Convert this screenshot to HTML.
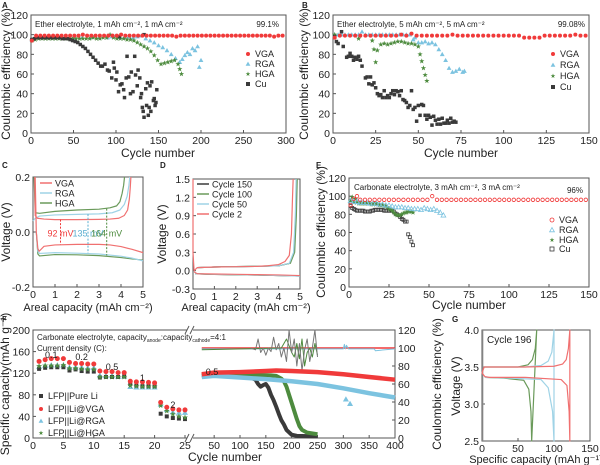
<!DOCTYPE html>
<html><head><meta charset="utf-8"><style>
html,body{margin:0;padding:0;background:#fff;}
svg{display:block;font-family:"Liberation Sans",Arial,sans-serif;}
</style></head><body>
<svg id="fig" width="600" height="465" viewBox="0 0 600 465" xmlns="http://www.w3.org/2000/svg"></svg>
<script>
// ---------- Panel A data ----------
const aVgaX=[1,6,11,16,21,26,31,36,41,46,51,56,61,66,71,76,81,86,91,96,101,106,111,116,121,126,131,136,141,146,151,156,161,166,171,176,181,186,191,196,201,206,211,216,221,226,231,236,241,246,251,256,261,266,271,276,281,286,291,296];
const aVgaY=[94,99,99,99,99,99,99,99,99,99,99,99,100,99,99,99,99,99,99,99,99,100,99,99,99,99,99,99,99,99,99,99,99,99,98,99,99,99,99,99,99,99,99,99,99,99,99,99,99,99,99,99,99,99,99,99,99,98,99,99];
const aRgaX=[1,10,20,30,40,50,60,70,80,90,95,100,105,110,115,120,125,130,135,140,145,150,155,160,165,170,175,178,181,184,187,190,193,196,198,200];
const aRgaY=[95,97,97,97,97,97,97,97,97,97,98,99,97,97,98,97,98,99,96,94,92,89,87,84,80,76,72,75,79,82,80,86,84,88,67,74];
const aHgaX=[1,5,9,13,17,21,25,29,33,37,41,45,49,53,57,61,65,69,73,77,81,85,89,93,97,101,105,109,113,117,121,125,129,133,137,141,145,149,153,157,161,165,169,173,175,177];
const aHgaY=[94,95,96,96,96,96,96,96,96,96,96,96,96,96,96,96,96,96,97,96,96,97,97,100,97,96,96,96,95,95,94,92,90,88,86,83,79,74,70,71,72,73,74,70,65,60];
const aCuX=[1,4,7,10,13,16,19,22,25,28,31,34,37,40,43,46,49,52,55,58,61,64,67,70,73,76,79,82,84,87,90,92,95,97,98,100,101,103,105,107,109,110,112,113,115,117,118,120,122,123,125,126,128,129,130,131,132,133,135,136,137,138,139,140,141,142,144,145,146,147,148,104,133];
const aCuY=[95,96,97,97,97,97,97,97,97,97,97,97,96,96,96,95,94,93,92,90,88,86,83,80,77,74,71,68,68,70,64,63,56,72,66,54,62,42,49,50,44,36,56,78,57,40,62,42,78,59,48,64,56,36,40,26,22,16,45,28,51,18,26,48,22,52,33,35,28,31,44,98,100];
// ---------- Panel B data ----------
const bVgaX=[1,4,7,10,13,16,19,22,25,28,31,34,37,40,43,46,49,52,55,58,61,64,67,70,73,76,79,82,85,88,91,94,97,100,103,106,109,112,115,118,121,124,127,130,133,136,139,142,145,148];
const bVgaY=[97,99,99,99,99,99,99,99,99,99,99,99,99,100,99,101,99,99,99,99,99,99,99,100,99,99,99,99,99,99,99,99,99,99,99,99,99,97,97,97,97,99,99,99,99,99,99,100,99,99];
const bRgaX=[1,3,5,7,9,11,13,15,17,19,21,23,25,27,29,31,33,35,37,39,41,43,45,47,48,50,52,54,56,58,60,62,64,66,68,70,72,74,76,77];
const bRgaY=[100,100,100,100,100,100,100,100,103,100,100,100,100,100,100,100,100,100,100,100,100,100,100,95,97,92,92,93,91,92,90,85,80,74,66,62,63,65,62,63];
const bHgaX=[1,15,23,24,25,26,28,30,32,34,36,38,40,42,44,46,48,50,51,52,53,54,55];
const bHgaY=[100,96,94,85,72,84,90,91,90,91,92,93,93,92,91,91,90,88,80,73,66,59,53];
const bCuX=[1,2,3,5,6,8,9,10,11,12,13,14,15,16,17,19,20,21,22,23,24,25,26,27,28,29,30,31,32,33,34,35,36,37,38,39,40,41,42,43,44,45,46,47,48,49,50,51,52,53,54,55,56,57,58,59,60,61,62,63,64,65,66,67,68,69,70,71,72];
const bCuY=[98,93,91,103,88,77,78,81,78,74,77,75,78,74,68,56,57,50,57,49,51,46,40,38,39,36,43,36,38,36,40,43,39,43,42,38,43,34,33,31,26,28,43,24,26,12,28,18,29,28,18,14,18,16,8,17,13,9,14,9,15,10,10,13,10,15,11,12,11];
// ---------- Panel C data ----------
const cVgaUpQ=[0.08,0.1,0.2,0.5,1,2,3,3.5,3.9,4.15,4.3,4.38,4.42,4.45];
const cVgaUpV=[0.2,0.06,0.05,0.047,0.045,0.045,0.046,0.047,0.05,0.06,0.08,0.12,0.16,0.2];
const cVgaDnQ=[0.1,0.15,0.22,0.28,0.5,1,2,3,3.5,4,4.5,5];
const cVgaDnV=[0.2,0.0,-0.06,-0.07,-0.052,-0.047,-0.045,-0.045,-0.047,-0.053,-0.063,-0.075];
const cRgaUpQ=[0,0.1,0.3,1,2,3,3.6,3.95,4.15,4.28,4.36,4.4];
const cRgaUpV=[0.04,0.05,0.058,0.062,0.064,0.066,0.07,0.08,0.1,0.13,0.17,0.2];
const cRgaDnQ=[0.15,0.22,0.3,1,2,3,4,4.5,5];
const cRgaDnV=[0.0,-0.07,-0.078,-0.075,-0.077,-0.08,-0.088,-0.095,-0.105];
const cHgaUpQ=[0.05,0.1,0.3,1,2,3,3.5,3.8,3.95,4.05,4.12,4.16];
const cHgaUpV=[0.2,0.07,0.068,0.075,0.08,0.083,0.088,0.095,0.11,0.14,0.17,0.2];
const cHgaDnQ=[0.15,0.22,0.3,1,2,3,4,4.5,5];
const cHgaDnV=[0.0,-0.08,-0.087,-0.082,-0.083,-0.086,-0.093,-0.098,-0.102];
// ---------- Panel D data ----------
const dC2UpQ=[0,0,0.05,0.2,1,2,3,3.5,4,4.3,4.5,4.6,4.65,4.68];
const dC2UpV=[1.5,0.3,0.0,0.05,0.06,0.065,0.07,0.08,0.1,0.15,0.25,0.6,1.2,1.5];
const dC2DnQ=[0.05,0.2,1,2,3,4,5];
const dC2DnV=[-0.02,-0.05,-0.055,-0.06,-0.065,-0.07,-0.08];
const dC50UpQ=[0.2,1,2,3,4,4.5,4.7,4.78,4.82];
const dC50UpV=[0.05,0.06,0.065,0.07,0.08,0.12,0.3,0.9,1.5];
const dC50DnQ=[0.1,1,3,5];
const dC50DnV=[-0.05,-0.06,-0.07,-0.09];
const dC100UpQ=[0.2,1,2,3,4,4.55,4.75,4.83,4.87];
const dC100UpV=[0.05,0.06,0.066,0.072,0.08,0.12,0.3,0.9,1.5];
const dC100DnQ=[0.1,1,3,5];
const dC100DnV=[-0.05,-0.062,-0.072,-0.088];
const dC150UpQ=[0.2,1,2,3,4,4.52,4.72,4.8,4.84];
const dC150UpV=[0.05,0.06,0.066,0.071,0.08,0.12,0.3,0.9,1.5];
const dC150DnQ=[0.1,1,3,5];
const dC150DnV=[-0.05,-0.062,-0.071,-0.088];
// ---------- Panel E data ----------
const eVgaX=[1,3,5,7,10,13,16,19,22,25,28,31,34,37,40,43,46,49,52,55,58,61,64,67,70,73,76,79,82,85,88,91,94,97,100,103,106,109,112,115,118,121,124,127,130,133,136,139,142,145,148];
const eVgaY=[90,97,100,96,96,96,96,96,96,96,96,96,96,96,96,96,96,96,100,96,96,96,96,96,96,96,96,96,96,96,96,96,96,96,96,96,96,96,96,96,96,96,96,96,96,96,96,96,96,96,96];
const eRgaX=[1,3,5,7,9,11,13,15,17,19,21,23,25,27,29,31,33,35,37,39,41,43,45,47,49,51,53,55,57,59];
const eRgaY=[95,94,94,93,93,93,92,92,92,91,91,90,90,89,88,88,88,87,87,86,86,86,85,87,86,85,86,84,82,79];
const eHgaX=[1,2,3,4,5,6,7,8,9,10,11,12,13,14,15,16,17,18,19,20,21,22,23,24,25,26,27,28,29,30,31,32,33,34,35,36,37,38,39,40];
const eHgaY=[95,99,93,97,93,92,92,92,92,92,92,92,92,91,91,92,91,91,90,90,90,89,89,88,86,85,84,82,80,79,79,79,80,81,82,82,83,83,83,82];
const eCuX=[1,2,3,4,5,6,7,8,9,10,11,12,13,14,15,16,17,18,19,20,21,22,23,24,25,26,27,28,29,30,31,32,33,34,35,36,37,38,39,40];
const eCuY=[89,87,86,85,84,84,84,84,84,83,83,83,83,84,84,85,85,85,85,85,85,84,84,84,84,84,84,83,81,80,79,77,75,74,72,72,58,55,50,46];
// ---------- Panel F data ----------
const fRateX=[1,2,3,4,5,6,7,8,9,10,11,12,13,14,15,16,17,18,19,20,21,22,23,24,25];
const fRatePure=[128,130,131,131,131,125,127,124,123,123,112,113,113,113,114,100,97,96,96,96,45,40,37,36,35];
const fRateVga=[142,145,147,147,147,140,138,138,137,137,124,123,123,121,121,105,104,104,103,102,66,57,54,52,52];
const fRateRga=[132,134,135,135,135,131,131,131,130,130,116,115,115,114,114,95,94,94,94,94,62,52,48,47,47];
const fRateHga=[133,134,134,134,135,129,129,128,127,127,113,113,113,113,113,97,96,95,95,95,60,50,44,40,38];
const fRateLabels=["0.1","0.2","0.5","1","2"];
const fVgaCapX=[26,50,100,150,170,200,250,300,350,400];
const fVgaCapY=[118,121,122,124,125,124,122,118,113,108];
const fRgaCapX=[26,50,100,150,200,250,300,350,400];
const fRgaCapY=[113,115,112,109,105,100,92,83,75];
const fHgaCapX=[26,50,100,130,160,170,180,185,190,195,200,205,210,215,220,230,250];
const fHgaCapY=[116,117,117,117,116,115,110,105,95,80,65,50,35,22,15,10,7];
const fPureCapX=[26,50,100,120,130,135,140,145,150,155,160,165,170,175,180,185,190,200,210,250];
const fPureCapY=[116,117,116,112,108,100,95,98,100,93,80,70,58,45,33,25,15,6,4,3];
const fVgaCeX=[26,100,200,300,400];
const fVgaCeY=[100,100,100,100,100];
const fRgaCeX=[26,300,302,304,306,310,360,362,400];
const fRgaCeY=[99,99,104,99,103,99,99,97,99];
const fRgaOutX=[305,313];
const fRgaOutY=[43,38];
const fPureCeX=[120,130,135,140,145,150,155,160,165,170,175,180,185,190,195,200,205,210,215,220,225,230,235,240,245,250];
const fPureCeY=[100,98,110,95,100,92,100,96,112,98,105,90,100,85,120,95,110,80,105,75,98,110,85,100,120,90];
const fHgaCeX=[26,180,190,200,205,210,215,220,225,230,235,240,245,250];
const fHgaCeY=[98,100,110,95,90,105,88,110,80,95,100,90,105,92];
// ---------- Panel G data ----------
const gVgaQ=[0,3,10,60,100,112,117,120,122,122,121,118,110,60,10,4,0];
const gVgaV=[3.42,3.5,3.5,3.5,3.51,3.54,3.6,3.75,4.0,2.5,2.9,3.25,3.33,3.36,3.36,3.37,3.42];
const gRgaQ=[3,60,82,92,97,100,100,98,92,82,40,4];
const gRgaV=[3.5,3.5,3.52,3.58,3.7,4.0,2.5,2.9,3.22,3.33,3.35,3.36];
const gHgaQ=[3,50,64,70,74,76,69,68,65,58,30,4];
const gHgaV=[3.5,3.5,3.53,3.6,3.75,4.0,2.5,2.9,3.2,3.32,3.35,3.36];
const gPureQ=[1,1];
const gPureV=[2.5,4.0];

// ---------- helpers ----------
const NS="http://www.w3.org/2000/svg";
const svg=document.getElementById('fig');
function mk(tag,parent){const e=document.createElementNS(NS,tag);parent.appendChild(e);return e;}
function set(e,o){for(const k in o)e.setAttribute(k,o[k]);return e;}
function lin(d0,d1,r0,r1){return v=>r0+(v-d0)*(r1-r0)/(d1-d0);}
function txt(parent,x,y,s,size,anchor,name,extra){
  const t=mk('text',parent);
  set(t,{x:x,y:y,'font-size':size,'text-anchor':anchor||'start',fill:'#222'});
  if(extra)set(t,extra);
  t.textContent=s;
  
  
  return t;
}
function group(name){const g=mk('g',svg);
  
  
  return g;}
function marker(g,type,x,y,color,s,open,name){
  let e;
  if(type==='sq'){e=mk('rect',g);set(e,{x:x-s/2,y:y-s/2,width:s,height:s});}
  else if(type==='ci'){e=mk('circle',g);set(e,{cx:x,cy:y,r:s/2});}
  else if(type==='tr'){e=mk('polygon',g);set(e,{points:`${x},${y-s*0.6} ${x-s*0.6},${y+s*0.45} ${x+s*0.6},${y+s*0.45}`});}
  else {e=mk('polygon',g);let p=[];for(let i=0;i<10;i++){const r=i%2?s*0.25:s*0.62;const a=-Math.PI/2+i*Math.PI/5;p.push((x+r*Math.cos(a)).toFixed(2)+','+(y+r*Math.sin(a)).toFixed(2));}set(e,{points:p.join(' ')});}
  if(open)set(e,{fill:'none',stroke:color,'stroke-width':0.8});else set(e,{fill:color});
  
  
  return e;
}
function scatter(g,xs,ys,sx,sy,type,color,s,open,name){
  for(let i=0;i<xs.length;i++){marker(g,type,sx(xs[i]),sy(ys[i]),color,s,open,name);}
}
function curve(g,xs,ys,sx,sy,color,w,name,op){
  const p=mk('polyline',g);
  set(p,{points:xs.map((x,i)=>sx(x).toFixed(2)+','+sy(ys[i]).toFixed(2)).join(' '),fill:'none',stroke:color,'stroke-width':w,'stroke-linejoin':'round','stroke-opacity':op||1});
  
  
  return p;
}
function frame(g,x0,y0,x1,y1){
  const r=mk('rect',g);set(r,{x:x0,y:y0,width:x1-x0,height:y1-y0,fill:'none',stroke:'#555','stroke-width':1});
  
  
}
function xTicks(g,ticks,labels,sx,y,fs){
  ticks.forEach((t,i)=>{const l=mk('line',g);set(l,{x1:sx(t),x2:sx(t),y1:y,y2:y-3,stroke:'#555'});
    
    
    txt(g,sx(t),y+11,labels[i],fs||10.5,'middle','x-tick-label');});
}
function yTicks(g,ticks,labels,sy,x,fs,right){
  ticks.forEach((t,i)=>{const l=mk('line',g);set(l,{x1:x,x2:right?x-3:x+3,y1:sy(t),y2:sy(t),stroke:'#555'});
    
    
    txt(g,right?x+3:x-3,sy(t)+4,labels[i],fs||10.5,right?'start':'end','y-tick-label');});
}
function rotTitle(g,x,y,s,name,fs){
  const t=txt(g,0,0,s,fs||12,'middle',name);
  t.setAttribute('transform',`translate(${x},${y}) rotate(-90)`);
  return t;
}
function legendRow(g,type,x,y,color,label,open){
  marker(g,type,x,y,color,4,open,'legend-marker');
  txt(g,x+7,y+3,label,9,'start','legend-label');
}
function legendLine(g,x,y,color,label){
  const l=mk('line',g);set(l,{x1:x,x2:x+12,y1:y,y2:y,stroke:color,'stroke-width':1.5});
  
  
  txt(g,x+15,y+3.5,label,9,'start','legend-label');
}
function panelLetter(s,x,y){txt(svg,x,y,s,8,'start','panel-letter-'+s.toLowerCase(),{'font-weight':'bold'});}
const RED='#f03a3a',BLUE='#7cc3e0',GREEN='#4d8b3e',BLACK='#3a3a3a';
const LRED='#f07070',LBLUE='#9fd3e6',LGREEN='#6a9a5a';

// ---------- Panel A ----------
(function(){
  const g=group('panel-a');panelLetter('A',2,8);
  const sx=lin(0,300,31,286),sy=lin(0,120,133,15);
  frame(g,31,15,286,133);
  xTicks(g,[0,50,100,150,200,250,300],['0','50','100','150','200','250','300'],sx,133);
  yTicks(g,[0,20,40,60,80,100,120],['0','20','40','60','80','100','120'],sy,31);
  txt(g,158,157,'Cycle number',12,'middle','x-axis-title');
  rotTitle(g,10,74,'Coulombic efficiency (%)','y-axis-title');
  scatter(g,aRgaX,aRgaY,sx,sy,'tr',BLUE,4,false,'rga-point');
  scatter(g,aHgaX,aHgaY,sx,sy,'st',GREEN,4.5,false,'hga-point');
  scatter(g,aCuX,aCuY,sx,sy,'sq',BLACK,3.5,false,'cu-point');
  scatter(g,aVgaX,aVgaY,sx,sy,'ci',RED,4,false,'vga-point');
  txt(g,35,27,'Ether electrolyte, 1 mAh cm⁻², 1 mA cm⁻²',8,'start','condition-note');
  txt(g,279,27,'99.1%',8,'end','efficiency-note');
  legendRow(g,'ci',248,54,RED,'VGA');legendRow(g,'tr',248,64,BLUE,'RGA');
  legendRow(g,'st',248,74,GREEN,'HGA');legendRow(g,'sq',248,84,BLACK,'Cu');
})();
// ---------- Panel B ----------
(function(){
  const g=group('panel-b');panelLetter('B',302,8);
  const sx=lin(0,150,333,589),sy=lin(0,120,133,15);
  frame(g,333,15,589,133);
  xTicks(g,[0,25,50,75,100,125,150],['0','25','50','75','100','125','150'],sx,133);
  yTicks(g,[0,20,40,60,80,100,120],['0','20','40','60','80','100','120'],sy,333);
  txt(g,461,157,'Cycle number',12,'middle','x-axis-title');
  rotTitle(g,308,74,'Coulombic efficiency (%)','y-axis-title');
  scatter(g,bRgaX,bRgaY,sx,sy,'tr',BLUE,4,false,'rga-point');
  scatter(g,bHgaX,bHgaY,sx,sy,'st',GREEN,4.5,false,'hga-point');
  scatter(g,bCuX,bCuY,sx,sy,'sq',BLACK,3.5,false,'cu-point');
  scatter(g,bVgaX,bVgaY,sx,sy,'ci',RED,4,false,'vga-point');
  txt(g,337,27,'Ether electrolyte, 5 mAh cm⁻², 5 mA cm⁻²',8,'start','condition-note');
  txt(g,585,27,'99.08%',8,'end','efficiency-note');
  legendRow(g,'ci',553,54,RED,'VGA');legendRow(g,'tr',553,65,BLUE,'RGA');
  legendRow(g,'st',553,76,GREEN,'HGA');legendRow(g,'sq',553,87,BLACK,'Cu');
})();
// ---------- Panel C ----------
(function(){
  const g=group('panel-c');panelLetter('C',2,168);
  const sx=lin(0,5,33,143),sy=lin(-0.2,0.2,287,177);
  frame(g,33,177,143,287);
  xTicks(g,[0,1,2,3,4,5],['0','1','2','3','4','5'],sx,287);
  yTicks(g,[-0.2,0,0.2],['-0.2','0.0','0.2'],sy,33);
  txt(g,88,311,'Areal capacity (mAh cm⁻²)',11,'middle','x-axis-title');
  rotTitle(g,10,232,'Voltage (V)','y-axis-title');
  curve(g,cHgaUpQ,cHgaUpV,sx,sy,LGREEN,1.2,'hga-curve');curve(g,cHgaDnQ,cHgaDnV,sx,sy,LGREEN,1.2,'hga-curve');
  curve(g,cRgaUpQ,cRgaUpV,sx,sy,LBLUE,1.2,'rga-curve');curve(g,cRgaDnQ,cRgaDnV,sx,sy,LBLUE,1.2,'rga-curve');
  curve(g,cVgaUpQ,cVgaUpV,sx,sy,LRED,1.2,'vga-curve');curve(g,cVgaDnQ,cVgaDnV,sx,sy,LRED,1.2,'vga-curve');
  [[1.25,0.045,-0.045,RED,'92 mV'],[2.5,0.065,-0.077,'#5aaed0','135 mV'],[3.35,0.085,-0.085,GREEN,'164 mV']].forEach(a=>{
    const l=mk('line',g);set(l,{x1:sx(a[0]),x2:sx(a[0]),y1:sy(a[1]),y2:sy(a[2]),stroke:a[3],'stroke-dasharray':'2,1.5','stroke-width':1});
    
    
    txt(g,sx(a[0]),sy(-0.005)+3,a[4],9,'middle','voltage-gap-label',{fill:a[3]});
  });
  legendLine(g,40,183,LRED,'VGA');legendLine(g,40,193,LBLUE,'RGA');legendLine(g,40,203,LGREEN,'HGA');
})();
// ---------- Panel D ----------
(function(){
  const g=group('panel-d');panelLetter('D',160,168);
  const sx=lin(0,5,193,300),sy=lin(-0.3,1.5,289,179);
  frame(g,193,179,300,289);
  xTicks(g,[0,1,2,3,4,5],['0','1','2','3','4','5'],sx,289);
  yTicks(g,[-0.3,0,0.3,0.6,0.9,1.2,1.5],['-0.3','0.0','0.3','0.6','0.9','1.2','1.5'],sy,193);
  txt(g,246,311,'Areal capacity (mAh cm⁻²)',11,'middle','x-axis-title');
  rotTitle(g,166,234,'Voltage (V)','y-axis-title');
  curve(g,dC150UpQ,dC150UpV,sx,sy,BLACK,1.2,'cycle150-curve');curve(g,dC150DnQ,dC150DnV,sx,sy,BLACK,1.2,'cycle150-curve');
  curve(g,dC100UpQ,dC100UpV,sx,sy,LGREEN,1.2,'cycle100-curve');curve(g,dC100DnQ,dC100DnV,sx,sy,LGREEN,1.2,'cycle100-curve');
  curve(g,dC50UpQ,dC50UpV,sx,sy,LBLUE,1.2,'cycle50-curve');curve(g,dC50DnQ,dC50DnV,sx,sy,LBLUE,1.2,'cycle50-curve');
  curve(g,dC2UpQ,dC2UpV,sx,sy,LRED,1.2,'cycle2-curve');curve(g,dC2DnQ,dC2DnV,sx,sy,LRED,1.2,'cycle2-curve');
  legendLine(g,197,184,BLACK,'Cycle 150');legendLine(g,197,194,LGREEN,'Cycle 100');
  legendLine(g,197,204,LBLUE,'Cycle 50');legendLine(g,197,214,LRED,'Cycle 2');
})();
// ---------- Panel E ----------
(function(){
  const g=group('panel-e');panelLetter('E',316,168);
  const sx=lin(0,150,349,589),sy=lin(0,120,287,178);
  frame(g,349,178,589,287);
  xTicks(g,[0,25,50,75,100,125,150],['0','25','50','75','100','125','150'],sx,287);
  yTicks(g,[0,20,40,60,80,100,120],['0','20','40','60','80','100','120'],sy,349);
  txt(g,469,309,'Cycle number',12,'middle','x-axis-title');
  rotTitle(g,325,232,'Coulombic efficiency (%)','y-axis-title');
  scatter(g,eCuX,eCuY,sx,sy,'sq',BLACK,3,true,'cu-point');
  scatter(g,eHgaX,eHgaY,sx,sy,'st',GREEN,4.5,false,'hga-point');
  scatter(g,eRgaX,eRgaY,sx,sy,'tr',BLUE,4,true,'rga-point');
  scatter(g,eVgaX,eVgaY,sx,sy,'ci',RED,3.5,true,'vga-point');
  txt(g,354,190,'Carbonate electrolyte, 3 mAh cm⁻², 3 mA cm⁻²',8,'start','condition-note');
  txt(g,583,193,'96%',8,'end','efficiency-note');
  legendRow(g,'ci',552,220,RED,'VGA',true);legendRow(g,'tr',552,230,BLUE,'RGA',true);
  legendRow(g,'st',552,240,GREEN,'HGA');legendRow(g,'sq',552,249,BLACK,'Cu',true);
})();
// ---------- Panel F ----------
(function(){
  const g=group('panel-f');panelLetter('F',2,322);
  const sxL=lin(0,25,33,185),sxR=lin(100,400,240,395);
  const sy=lin(0,200,438,330),syR=lin(0,120,438,330);
  frame(g,33,330,395,438);
  [330,438].forEach(y=>{const w=mk('rect',g);set(w,{x:187,y:y-3,width:6,height:6,fill:'#fff'});
    
    
    [186,191].forEach(x=>{const l=mk('line',g);set(l,{x1:x-1,y1:y+4,x2:x+3,y2:y-4,stroke:'#555'});
      
      });});
  xTicks(g,[0,5,10,15,20,25],['0','5','10','15','20','25'],sxL,438);
  xTicks(g,[50,100,150,200,250,300,350,400],['50','100','150','200','250','300','350','400'],sxR,438);
  yTicks(g,[0,40,80,120,160,200],['0','40','80','120','160','200'],sy,33);
  yTicks(g,[0,20,40,60,80,100,120],['0','20','40','60','80','100','120'],syR,395,10.5,true);
  txt(g,225,461,'Cycle number',12,'middle','x-axis-title');
  rotTitle(g,9,384,'Specific capacity(mAh g⁻¹)','y-axis-title');
  rotTitle(g,441,384,'Coulombic efficiency (%)','y2-axis-title');
  scatter(g,fRateX,fRateRga,sxL,sy,'tr',BLUE,5,false,'rga-rate-point');
  scatter(g,fRateX,fRatePure,sxL,sy,'sq',BLACK,4,false,'pure-li-rate-point');
  scatter(g,fRateX,fRateHga,sxL,sy,'st',GREEN,5,false,'hga-rate-point');
  scatter(g,fRateX,fRateVga,sxL,sy,'ci',RED,5,false,'vga-rate-point');
  txt(g,sxL(3),358,fRateLabels[0],9,'middle','rate-label');
  txt(g,sxL(8),360,fRateLabels[1],9,'middle','rate-label');
  txt(g,sxL(13),370,fRateLabels[2],9,'middle','rate-label');
  txt(g,sxL(18),381,fRateLabels[3],9,'middle','rate-label');
  txt(g,sxL(23),408,fRateLabels[4],9,'middle','rate-label');
  const sxc=v=>sxR(v);
  curve(g,fVgaCeX,fVgaCeY,sxc,syR,RED,1.5,'vga-ce-line');
  curve(g,fRgaCeX,fRgaCeY,sxc,syR,BLUE,1,'rga-ce-line');
  curve(g,fHgaCeX,fHgaCeY,sxc,syR,GREEN,1,'hga-ce-line');
  curve(g,fPureCeX,fPureCeY,sxc,syR,'#777',1,'pure-li-ce-line');
  curve(g,fPureCapX,fPureCapY,sxc,sy,BLACK,4,'pure-li-capacity-band');
  curve(g,fHgaCapX,fHgaCapY,sxc,sy,GREEN,4,'hga-capacity-band');
  curve(g,fRgaCapX,fRgaCapY,sxc,sy,BLUE,4.5,'rga-capacity-band');
  curve(g,fVgaCapX,fVgaCapY,sxc,sy,RED,4.5,'vga-capacity-band');
  scatter(g,fRgaOutX,fRgaOutY,sxc,syR,'tr',BLUE,5,false,'rga-outlier-point');
  txt(g,212,375,'0.5',9,'middle','rate-label');
  const note=txt(g,37,340,'',8,'start','condition-note');
  note.innerHTML='Carbonate electrolyte, capacity<tspan font-size="5" dy="2">anode</tspan><tspan dy="-2">:capacity</tspan><tspan font-size="5" dy="2">cathode</tspan><tspan dy="-2">=4:1</tspan>';
  txt(g,37,351,'Current density (C):',8,'start','current-density-note');
  legendRow(g,'sq',41,396,BLACK,'LFP||Pure Li');legendRow(g,'ci',41,409,RED,'LFP||Li@VGA');
  legendRow(g,'tr',41,421,BLUE,'LFP||Li@RGA');legendRow(g,'st',41,433,GREEN,'LFP||Li@HGA');
})();
// ---------- Panel G ----------
(function(){
  const g=group('panel-g');panelLetter('G',452,322);
  const sx=lin(0,150,482,590),sy=lin(2.5,4.0,441,330);
  frame(g,482,330,590,441);
  xTicks(g,[0,50,100,150],['0','50','100','150'],sx,441);
  yTicks(g,[2.5,3.0,3.5,4.0],['2.5','3.0','3.5','4.0'],sy,482);
  txt(g,536,463,'Specific capacity (mAh g⁻¹)',11,'middle','x-axis-title');
  rotTitle(g,460,386,'Voltage (V)','y-axis-title');
  curve(g,gPureQ,gPureV,sx,sy,'#888',1.2,'pure-li-curve');
  curve(g,gHgaQ,gHgaV,sx,sy,LGREEN,1.2,'hga-curve');
  curve(g,gRgaQ,gRgaV,sx,sy,LBLUE,1.2,'rga-curve');
  curve(g,gVgaQ,gVgaV,sx,sy,LRED,1.2,'vga-curve');
  txt(g,487,343,'Cycle 196',10,'start','cycle-label');
})();
</script>
</body></html>
